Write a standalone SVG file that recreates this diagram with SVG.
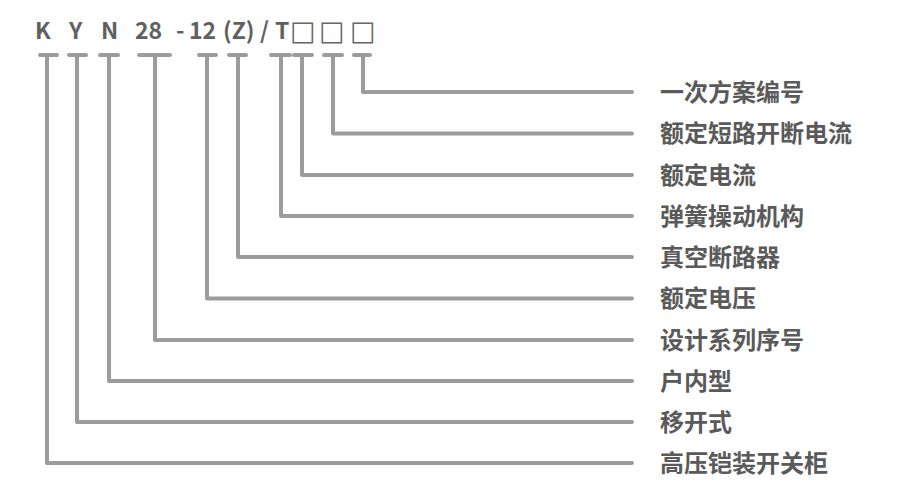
<svg xmlns="http://www.w3.org/2000/svg" width="905" height="504" viewBox="0 0 905 504">
<style>
.code{font-family:"Noto Sans CJK SC","Noto Sans",sans-serif;font-size:23px;font-weight:bold;fill:#606060}
.box{font-family:"DejaVu Sans",sans-serif;font-size:27px;fill:#666666}
.lbl{font-family:"Noto Sans CJK SC",sans-serif;font-size:24px;font-weight:bold;fill:#5a5a5a}
.ln{fill:none;stroke:#9c9c9c;stroke-width:4;stroke-linejoin:round;stroke-linecap:round}
.bar{fill:none;stroke:#9c9c9c;stroke-width:4;stroke-linecap:round}
</style>
<rect width="905" height="504" fill="#ffffff"/>
<g id="code">
<text class="code" x="35" y="39">K</text>
<text class="code" x="69" y="39">Y</text>
<text class="code" x="101" y="39">N</text>
<text class="code" x="135" y="39">28</text>
<text class="code" x="176" y="39">-</text>
<text class="code" x="189" y="39">12</text>
<text class="code" x="223" y="39">(Z)</text>
<text class="code" x="260" y="39">/</text>
<text class="code" x="275" y="39">T</text>
<text class="box" x="290" y="40">□</text>
<text class="box" x="319" y="40">□</text>
<text class="box" x="350" y="40">□</text>
</g>
<g id="connectors">
<path class="bar" d="M40 55H57M69 55H86M100 55H118M139 55H170M199 55H216M229 55H246M271 55H290M294 55H312M324 55H342M354 55H370"/>
<path class="ln" d="M363 55V92H632"/>
<path class="ln" d="M333 55V133.5H632"/>
<path class="ln" d="M302 55V175H632"/>
<path class="ln" d="M281 55V216H632"/>
<path class="ln" d="M238 55V257H632"/>
<path class="ln" d="M207 55V298.5H632"/>
<path class="ln" d="M155 55V340H632"/>
<path class="ln" d="M109 55V381H632"/>
<path class="ln" d="M77 55V422H632"/>
<path class="ln" d="M47 55V463H632"/>
</g>
<g id="n1"><text class="lbl" x="660" y="100.5">一次方案编号</text></g>
<g id="n2"><text class="lbl" x="660" y="142">额定短路开断电流</text></g>
<g id="n3"><text class="lbl" x="660" y="183.5">额定电流</text></g>
<g id="n4"><text class="lbl" x="660" y="224.5">弹簧操动机构</text></g>
<g id="n5"><text class="lbl" x="660" y="265.5">真空断路器</text></g>
<g id="n6"><text class="lbl" x="660" y="307">额定电压</text></g>
<g id="n7"><text class="lbl" x="660" y="348.5">设计系列序号</text></g>
<g id="n8"><text class="lbl" x="660" y="389.5">户内型</text></g>
<g id="n9"><text class="lbl" x="660" y="430.5">移开式</text></g>
<g id="n10"><text class="lbl" x="660" y="471.5">高压铠装开关柜</text></g>
</svg>
